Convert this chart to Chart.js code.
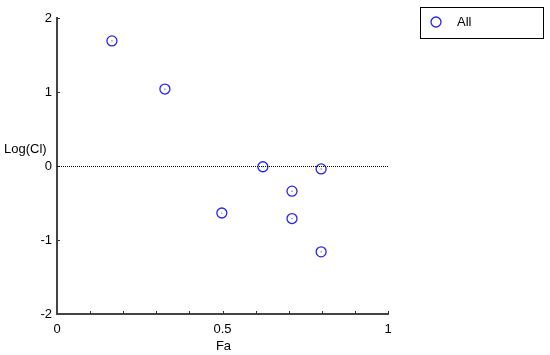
<!DOCTYPE html>
<html>
<head>
<meta charset="utf-8">
<script src="https://cdn.jsdelivr.net/npm/chart.js@4"></script>
<style>
	body { margin: 0; background: #fff; }
	#wrap { width: 550px; height: 355px; }
</style>
</head>
<body>
<div id="wrap"><canvas id="chart" width="550" height="355"></canvas></div>
<script>
const faValues = [0.166, 0.326, 0.498, 0.622, 0.71, 0.71, 0.798, 0.798];
const logClValues = [1.69, 1.04, -0.635, -0.01, -0.34, -0.71, -0.04, -1.16];
const xTickLabels = ['0', '0.5', '1'];
const seriesName = 'All';

const points = faValues.map((x, i) => ({ x: x, y: logClValues[i] }));
const markerColor = '#2525f0';
const font = { family: 'Liberation Sans, Arial, sans-serif', size: 13 };

const extras = {
	id: 'extras',
	afterDraw(chart) {
		const ctx = chart.ctx;
		const xs = chart.scales.x;
		const ys = chart.scales.y;
		const area = chart.chartArea;
		ctx.save();
		// inside tick marks
		ctx.strokeStyle = '#333';
		ctx.lineWidth = 1;
		for (let i = 1; i <= 10; i++) {
			const px = Math.round(xs.getPixelForValue(i / 10)) + 0.5;
			ctx.beginPath();
			ctx.moveTo(px, area.bottom);
			ctx.lineTo(px, area.bottom - 3);
			ctx.stroke();
		}
		for (let v = -1; v <= 2; v++) {
			const py = Math.round(ys.getPixelForValue(v)) + 0.5;
			ctx.beginPath();
			ctx.moveTo(area.left, py);
			ctx.lineTo(area.left + 3, py);
			ctx.stroke();
		}
		// dotted zero line
		const y0 = Math.round(ys.getPixelForValue(0)) + 0.5;
		ctx.strokeStyle = '#000';
		ctx.setLineDash([1, 1]);
		ctx.beginPath();
		ctx.moveTo(area.left, y0);
		ctx.lineTo(area.right, y0);
		ctx.stroke();
		ctx.setLineDash([]);
		// axis titles
		ctx.fillStyle = '#000';
		ctx.font = font.size + 'px ' + font.family;
		ctx.textAlign = 'left';
		ctx.textBaseline = 'middle';
		ctx.fillText('Log(Cl)', 4, 149);
		ctx.textAlign = 'center';
		ctx.fillText('Fa', xs.getPixelForValue(0.5) + 1, 346);
		// legend box
		ctx.strokeStyle = '#000';
		ctx.lineWidth = 1;
		ctx.strokeRect(420.5, 7.5, 123, 31);
		ctx.strokeStyle = markerColor;
		ctx.lineWidth = 1.3;
		ctx.beginPath();
		ctx.arc(436, 22, 5, 0, Math.PI * 2);
		ctx.stroke();
		ctx.textAlign = 'left';
		ctx.fillText(seriesName, 457, 22);
		ctx.restore();
	}
};

new Chart(document.getElementById('chart'), {
	type: 'scatter',
	data: {
		datasets: [
			{
				label: seriesName,
				data: points,
				pointStyle: 'circle',
				pointRadius: 5,
				pointHoverRadius: 5,
				borderWidth: 1.3,
				borderColor: markerColor,
				backgroundColor: 'rgba(0,0,0,0)',
			},
			{
				label: 'centers',
				data: points,
				pointRadius: 0.6,
				borderWidth: 0,
				backgroundColor: markerColor,
			},
		],
	},
	options: {
		responsive: false,
		animation: false,
		layout: {
			padding: { left: 0, top: 18, right: 162, bottom: 0 },
		},
		plugins: {
			legend: { display: false },
			tooltip: { enabled: false },
		},
		scales: {
			x: {
				type: 'linear',
				min: 0,
				max: 1,
				afterFit: (scale) => { scale.height = 41; },
				afterBuildTicks: (scale) => {
					scale.ticks = [0, 0.5, 1].map((v) => ({ value: v }));
				},
				ticks: {
					color: '#000',
					font: font,
					padding: 8,
					maxRotation: 0,
					callback: (v, i) => xTickLabels[i],
				},
				grid: { display: false, drawTicks: false },
				border: { color: '#444', width: 2 },
			},
			y: {
				type: 'linear',
				min: -2,
				max: 2,
				afterFit: (scale) => { scale.width = 57; },
				ticks: {
					stepSize: 1,
					color: '#000',
					font: font,
					padding: 5,
				},
				grid: { display: false, drawTicks: false },
				border: { color: '#444', width: 2 },
			},
		},
	},
	plugins: [extras],
});
</script>
</body>
</html>
